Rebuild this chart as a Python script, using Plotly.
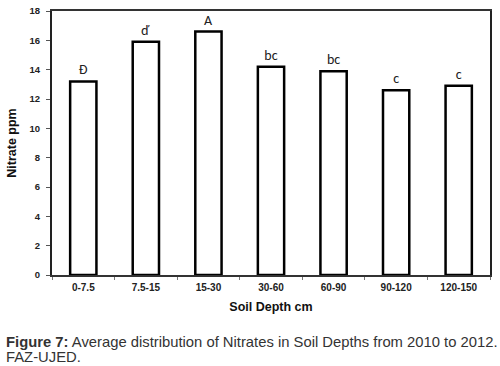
import plotly.graph_objects as go

categories = ["0-7.5", "7.5-15", "15-30", "30-60", "60-90", "90-120", "120-150"]
nitrate = [13.2, 15.9, 16.6, 14.2, 13.9, 12.6, 12.9]
letters = ["Đ", "ď", "A", "bc", "bc", "c", "c"]
y_ticks = [0, 2, 4, 6, 8, 10, 12, 14, 16, 18]
caption_1 = "<b>Figure 7:</b> Average distribution of Nitrates in Soil Depths from 2010 to 2012."
caption_2 = "FAZ-UJED."

FONT = "Arial, Liberation Sans, sans-serif"

fig = go.Figure()
fig.add_trace(go.Bar(
    x=categories, y=nitrate,
    marker=dict(color="white", line=dict(color="black", width=2.5)),
    text=letters, textposition="outside", cliponaxis=False,
    textfont=dict(family="Carlito, Calibri, Liberation Sans, sans-serif", size=14, color="#222"),
    width=0.42,
))

fig.update_layout(
    width=500, height=366,
    margin=dict(l=52, r=10, t=11, b=91, autoexpand=False),
    plot_bgcolor="white", paper_bgcolor="white",
    showlegend=False,
    font=dict(family=FONT),
    xaxis=dict(
        automargin=False,
        showline=True, linecolor="#333", linewidth=2, mirror=True,
        ticks="outside", tickson="boundaries", ticklen=3, tickcolor="#777", tickwidth=1,
        ticklabelstandoff=2,
        tickfont=dict(family=FONT, size=10, color="#222", weight="bold"),
        title=dict(text="<b>Soil Depth cm</b>", font=dict(family=FONT, size=12.5, color="#111"), standoff=10),
    ),
    yaxis=dict(
        automargin=False,
        range=[0, 18], tickvals=y_ticks, showgrid=False, zeroline=False,
        showline=True, linecolor="#222", linewidth=2, mirror=True,
        ticks="outside", ticklen=4, tickcolor="#555",
        ticklabelstandoff=4,
        tickfont=dict(family=FONT, size=9.5, color="#222", weight="bold"),
        title=dict(text="<b>Nitrate ppm</b>", font=dict(family=FONT, size=12.5, color="#111"), standoff=10),
    ),
)

fig.add_annotation(
    x=4, y=342, xref="paper", yref="paper", showarrow=False,
    xanchor="left", yanchor="middle", align="left",
    text=caption_1, font=dict(family=FONT, size=14.8, color="#333"),
)
fig.add_annotation(
    x=4, y=357, xref="paper", yref="paper", showarrow=False,
    xanchor="left", yanchor="middle", align="left",
    text=caption_2, font=dict(family=FONT, size=14.8, color="#333"),
)
# convert pixel positions to paper coordinates
pw, ph = 500 - 52 - 10, 366 - 11 - 91
for ann in fig.layout.annotations:
    px, py = ann.x, ann.y
    ann.x = (px - 52) / pw
    ann.y = (366 - 91 - py) / ph

fig.write_html(
    "out.html",
    config={"displayModeBar": False},
    post_script="document.body.style.margin='0';document.body.style.overflow='hidden';",
)
